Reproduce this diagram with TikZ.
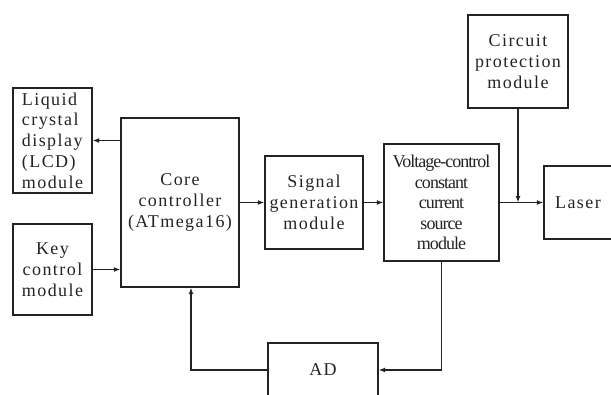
\documentclass[tikz,border=0pt]{standalone}
\usepackage{fontspec}
\setmainfont{Liberation Serif}[LetterSpace=8]
\usetikzlibrary{arrows.meta,calc}
\definecolor{ink}{RGB}{35,35,35}
\begin{document}
\begin{tikzpicture}[x=1pt,y=-1pt,
  box/.style={draw=ink,text=ink,line width=1.4pt,inner sep=0pt,align=center,
    font=\fontsize{18}{20.8}\selectfont},
  conn/.style={draw=ink,line width=1.2pt,-{Latex[length=6.5pt,width=5pt]}}]
\useasboundingbox (0,0) rectangle (611,394);
\node[box,align=left,minimum width=79pt,minimum height=105pt] (lcd) at (52.5,140.5) {Liquid\\crystal\\display\\(LCD)\\module};
\node[box,minimum width=79pt,minimum height=91pt] (key) at (52.5,269.5) {Key\\control\\module};
\node[box,minimum width=118pt,minimum height=169pt] (core) at (180,202.5) {Core\\controller\\(ATmega16)};
\node[box,minimum width=98pt,minimum height=93pt] (sig) at (314,202.5) {Signal\\generation\\module};
\node[box,minimum width=115pt,minimum height=117pt,
  font=\fontsize{18}{20.5}\selectfont\addfontfeatures{LetterSpace=-5.5}] (volt) at (441.5,202.5) {Voltage-control\\constant\\current\\source\\module};
\node[box,minimum width=100pt,minimum height=93pt] (circ) at (518,61.5) {Circuit\\protection\\module};
\node[box,minimum width=68pt,minimum height=73pt] (laser) at (578,202.5) {Laser};
\node[box,minimum width=110pt,minimum height=54pt] (ad) at (323,370) {AD};
\coordinate (j) at (circ.south |- volt.east);
\coordinate (cin) at ($(core.south)+(11,0)$);
\draw[conn] (core.west |- lcd.east) -- (lcd.east);
\draw[conn] (key.east) -- (key.east -| core.west);
\draw[conn] (core.east) -- (sig.west);
\draw[conn] (sig.east) -- (volt.west);
\draw[conn] (volt.east) -- (laser.west);
\draw[conn] (circ.south) -- (j);
\draw[conn] (volt.south) |- (ad.east);
\draw[conn] (ad.west) -| (cin);
\end{tikzpicture}
\end{document}
